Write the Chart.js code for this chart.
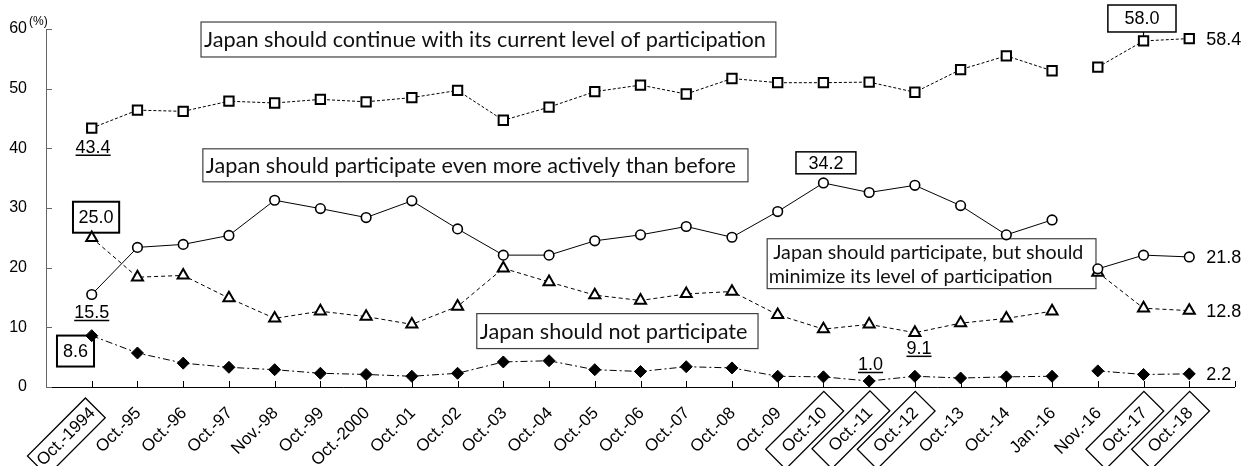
<!DOCTYPE html>
<html><head><meta charset="utf-8">
<script src="https://cdn.jsdelivr.net/npm/chart.js@4"></script>
<style>html,body{margin:0;padding:0;background:#fff;}canvas{display:block;}</style>
</head><body>
<canvas id="c" width="1251" height="466"></canvas>
<script>
// ---------- data ----------
const categories = ['Oct.-1994','Oct.-95','Oct.-96','Oct.-97','Nov.-98','Oct.-99','Oct.-2000','Oct.-01','Oct.-02','Oct.-03','Oct.-04','Oct.-05','Oct.-06','Oct.-07','Oct.-08','Oct.-09','Oct.-10','Oct.-11','Oct.-12','Oct.-13','Oct.-14','Jan.-16','Nov.-16','Oct.-17','Oct.-18'];
const continueLevel  = [43.4,46.4,46.2,47.9,47.6,48.2,47.8,48.5,49.7,44.7,46.9,49.5,50.6,49.1,51.7,51.0,51.0,51.1,49.4,53.2,55.5,53.0,53.6,58.0,58.4];
const moreActive     = [15.5,23.4,23.9,25.4,31.3,29.9,28.4,31.2,26.5,22.1,22.1,24.5,25.5,26.9,25.1,29.4,34.2,32.6,33.8,30.4,25.5,28.0,19.8,22.1,21.8];
const minimize       = [25.0,18.4,18.7,14.9,11.5,12.7,11.8,10.5,13.5,19.9,17.6,15.4,14.5,15.6,16.0,12.1,9.7,10.5,9.1,10.7,11.5,12.7,19.2,13.2,12.8];
const notParticipate = [8.6,5.7,4.0,3.3,2.9,2.3,2.1,1.8,2.3,4.2,4.4,2.9,2.6,3.4,3.2,1.8,1.7,1.0,1.8,1.5,1.7,1.8,2.7,2.1,2.2];
const yTicks = [0,10,20,30,40,50,60];
const boxedCategories = ['Oct.-1994','Oct.-10','Oct.-11','Oct.-12','Oct.-17','Oct.-18'];
const gapAfter = 'Jan.-16';
const seriesNames = [
  ['Japan should continue with its current level of participation'],
  ['Japan should participate even more actively than before'],
  ['Japan should participate, but should','minimize its level of participation'],
  ['Japan should not participate']
];

// ---------- annotation layout (data coordinates: x = padded category index, y = %) ----------
const legendBoxes = [
  {lines: seriesNames[0], x0:3.39, x1:15.96, y0:61.17, y1:55.31, indent:[3], scale:1},
  {lines: seriesNames[1], x0:3.43, x1:15.35, y0:39.92, y1:34.39, indent:[3], scale:1},
  {lines: seriesNames[2], x0:15.77, x1:22.96, y0:24.85, y1:16.49, indent:[6,1.5], scale:0.91},
  {lines: seriesNames[3], x0:9.42, x1:15.57, y0:12.30, y1:6.44, indent:[3], scale:1}
];
const valueBoxes = [
  {series: minimize, idx:0, x0:0.59, x1:1.60, y0:31.05, y1:25.86, lw:2},
  {series: notParticipate, idx:0, x0:0.24, x1:1.05, y0:8.62, y1:3.43, lw:2},
  {series: moreActive, idx:16, x0:16.40, x1:17.71, y0:39.41, y1:35.73, lw:1.5},
  {series: continueLevel, idx:23, x0:23.22, x1:24.71, y0:64.02, y1:59.5, lw:1.5, connector:true}
];
const underlined = [
  {series: continueLevel, idx:0, x:1.03, y:39.25},
  {series: moreActive, idx:0, x:1.0, y:11.58},
  {series: notParticipate, idx:17, x:18.03, y:2.85},
  {series: minimize, idx:18, x:19.09, y:5.56}
];

const pad = a => [null, ...a, null];
const labels = ['', ...categories, ''];
const gapSeg = ctx => (categories[ctx.p0DataIndex - 1] === gapAfter ? 'rgba(0,0,0,0)' : undefined);
const NUMFONT = '"Liberation Sans", Arial, sans-serif';

const annPlugin = {
  id: 'ann',
  beforeDatasetsDraw(chart) {
    const {ctx, scales: {x, y}, chartArea: ca} = chart;
    ctx.save();
    // x axis line
    ctx.strokeStyle = '#000'; ctx.lineWidth = 1;
    ctx.beginPath(); ctx.moveTo(ca.left, ca.bottom + 0.5); ctx.lineTo(ca.right, ca.bottom + 0.5); ctx.stroke();
    // x ticks (inward)
    for (let i = 1; i < labels.length; i++) {
      const px = Math.round(x.getPixelForValue(i)) + 0.5;
      ctx.beginPath(); ctx.moveTo(px, ca.bottom); ctx.lineTo(px, ca.bottom - 6); ctx.stroke();
    }
    // y ticks (inward)
    ctx.strokeStyle = '#666';
    for (const v of yTicks) {
      const py = Math.round(y.getPixelForValue(v)) + 0.5;
      ctx.beginPath(); ctx.moveTo(ca.left, py); ctx.lineTo(ca.left + 6, py); ctx.stroke();
    }
    // legend text boxes
    ctx.font = '20px Lato';
    const fit = 20 * 562 / ctx.measureText(legendBoxes[0].lines[0]).width;
    for (const b of legendBoxes) {
      ctx.font = (fit * b.scale).toFixed(2) + 'px Lato';
      const L = x.getPixelForValue(b.x0), R = x.getPixelForValue(b.x1);
      const T = y.getPixelForValue(b.y0), B = y.getPixelForValue(b.y1);
      ctx.fillStyle = '#fff'; ctx.fillRect(L, T, R - L, B - T);
      ctx.strokeStyle = '#404040'; ctx.lineWidth = 1.2; ctx.strokeRect(L, T, R - L, B - T);
      ctx.fillStyle = '#111'; ctx.textAlign = 'left'; ctx.textBaseline = 'middle';
      const n = b.lines.length, lh = (B - T) / n;
      b.lines.forEach((t, k) => ctx.fillText(t, L + (b.indent[k] ?? b.indent[0]), T + lh * (k + 0.5) + 1));
    }
    // value boxes
    ctx.font = '18px ' + NUMFONT;
    for (const b of valueBoxes) {
      const L = x.getPixelForValue(b.x0), R = x.getPixelForValue(b.x1);
      const T = y.getPixelForValue(b.y0), B = y.getPixelForValue(b.y1);
      if (b.connector) {
        const px = x.getPixelForValue(b.idx + 1), py = y.getPixelForValue(b.series[b.idx]);
        ctx.strokeStyle = '#000'; ctx.lineWidth = 1.2;
        ctx.beginPath(); ctx.moveTo(px, B); ctx.lineTo(px, py); ctx.stroke();
      }
      ctx.fillStyle = '#fff'; ctx.fillRect(L, T, R - L, B - T);
      ctx.strokeStyle = '#000'; ctx.lineWidth = b.lw; ctx.strokeRect(L, T, R - L, B - T);
      ctx.fillStyle = '#000'; ctx.textAlign = 'center'; ctx.textBaseline = 'middle';
      ctx.fillText(b.series[b.idx].toFixed(1), (L + R) / 2, (T + B) / 2 + 1);
    }
    ctx.restore();
  },
  afterDatasetsDraw(chart) {
    const {ctx, scales: {x, y}, chartArea: ca} = chart;
    ctx.save();
    // underlined value labels
    ctx.font = '18px ' + NUMFONT; ctx.fillStyle = '#000'; ctx.strokeStyle = '#000';
    ctx.textAlign = 'center'; ctx.textBaseline = 'alphabetic';
    for (const u of underlined) {
      const t = u.series[u.idx].toFixed(1);
      const px = x.getPixelForValue(u.x), py = y.getPixelForValue(u.y);
      ctx.fillText(t, px, py);
      const w = ctx.measureText(t).width;
      ctx.lineWidth = 1.5;
      ctx.beginPath(); ctx.moveTo(px - w / 2, py + 2.5); ctx.lineTo(px + w / 2, py + 2.5); ctx.stroke();
    }
    // end labels
    ctx.textAlign = 'left'; ctx.textBaseline = 'middle';
    const last = categories.length;
    for (const s of [continueLevel, moreActive, minimize, notParticipate]) {
      const v = s[last - 1];
      ctx.fillText(v.toFixed(1), x.getPixelForValue(last) + 17, y.getPixelForValue(v) + 1);
    }
    // (%)
    ctx.font = '12px ' + NUMFONT;
    ctx.fillText('(%)', ca.left - 17, y.getPixelForValue(60) - 7);
    // x labels rotated
    ctx.font = '17px ' + NUMFONT;
    categories.forEach((cat, k) => {
      const px = x.getPixelForValue(k + 1);
      ctx.save();
      ctx.translate(px + 1, ca.bottom + 23.5);
      ctx.rotate(-Math.PI / 4);
      ctx.textAlign = 'right'; ctx.textBaseline = 'middle'; ctx.fillStyle = '#000';
      ctx.fillText(cat, 0, 0);
      if (boxedCategories.includes(cat)) {
        const w = ctx.measureText(cat).width;
        ctx.lineWidth = 1.3; ctx.strokeStyle = '#000';
        ctx.strokeRect(-w / 2 - 41, -14, 82, 28);
      }
      ctx.restore();
    });
    ctx.restore();
  }
};

const base = {borderColor:'#000', pointBorderColor:'#000', borderWidth:1, spanGaps:false, segment:{borderColor: gapSeg}};
new Chart(document.getElementById('c'), {
  type: 'line',
  data: {
    labels,
    datasets: [
      {...base, label: seriesNames[1].join(' '), data: pad(moreActive), pointStyle:'circle', pointRadius:4.8, pointBorderWidth:1.6, pointBackgroundColor:'#fff'},
      {...base, label: seriesNames[0].join(' '), data: pad(continueLevel), borderDash:[3,2], pointStyle:'rect', pointRadius:6.6, pointBorderWidth:2, pointBackgroundColor:'#fff'},
      {...base, label: seriesNames[2].join(' '), data: pad(minimize), borderDash:[4,3], pointStyle:'triangle', pointRadius:6.4, pointBorderWidth:2, pointBackgroundColor:'#fff'},
      {...base, label: seriesNames[3].join(' '), data: pad(notParticipate), borderDash:[7,3,2,3], pointStyle:'rectRot', pointRadius:6, pointBorderWidth:1, pointBackgroundColor:'#000'}
    ]
  },
  options: {
    responsive:false, animation:false, devicePixelRatio:1,
    layout:{padding:{top:29, right:16, left:0, bottom:0}},
    plugins:{legend:{display:false}, tooltip:{enabled:false}},
    elements:{line:{tension:0}},
    scales:{
      x:{type:'category', offset:false, grid:{display:false, drawTicks:false}, border:{display:false}, ticks:{display:false},
         afterFit: s => { s.height = 79; }},
      y:{min:0, max:60, grid:{display:false, drawTicks:false}, border:{display:true, color:'#666', width:1},
         afterBuildTicks: s => { s.ticks = yTicks.map(v => ({value:v})); },
         ticks:{padding:19, color:'#000', font:{family:'"Liberation Sans", Arial, sans-serif', size:16}},
         afterFit: s => { s.width = 46; }}
    }
  },
  plugins:[annPlugin]
});
</script>
</body></html>
